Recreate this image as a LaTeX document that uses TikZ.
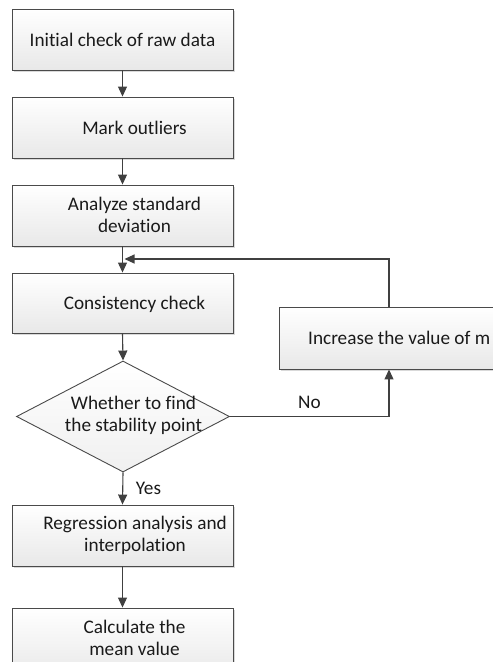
\documentclass[tikz,border=0pt]{standalone}
\usepackage{fontspec}
\setmainfont{Carlito}[Ligatures={NoCommon}]
\usetikzlibrary{arrows.meta,shapes.geometric,shadows}
\definecolor{edgegray}{HTML}{4A4A4A}
\definecolor{linegray}{HTML}{404040}
\definecolor{textgray}{HTML}{1A1A1A}
\tikzset{
  procbox/.style={rectangle, draw=edgegray, line width=0.9bp,
    top color=white, bottom color=black!9,
    minimum width=221bp, minimum height=61bp, inner sep=0pt,
    drop shadow={shadow xshift=2bp, shadow yshift=-2bp, opacity=0.25, fill=black!60}},
  decbox/.style={diamond, draw=edgegray, line width=0.9bp,
    top color=white, bottom color=black!6,
    minimum width=213bp, minimum height=111bp, inner sep=0pt, aspect=1.9},
  label/.style={font=\fontsize{19.3}{22}\selectfont, text=textgray, align=center, inner sep=0pt},
  flow/.style={draw=linegray, line width=1.1bp, -{Triangle[length=10bp,width=9bp]}},
}
\begin{document}
\begin{tikzpicture}[x=1bp,y=-1bp]
\useasboundingbox (0,0) rectangle (493,667);
\begin{scope}
\clip (0,0) rectangle (493,661);
% main column of process boxes
\node[procbox] (b1) at (122.5,39.5) {};
\node[procbox] (b2) at (122.5,127.5) {};
\node[procbox] (b3) at (122.5,215.5) {};
\node[procbox, minimum height=60bp] (b4) at (122.5,303) {};
\node[decbox] (dia) at (123,416.5) {};
\node[procbox] (b5) at (122.5,535.5) {};
\node[procbox, minimum height=70bp] (b6) at (122.5,643) {};
% side box of the loop
\node[procbox, minimum height=62bp, minimum width=220bp] (r) at (389,338) {};

% texts
\node[label] (t1) at (122.5,40) {Initial check of raw data};
\node[label] (t2) at (134.5,128) {Mark outliers};
\node[label] (t3) at (134.5,215) {Analyze standard\\deviation};
\node[label] (t4) at (134.5,304) {Consistency check};
\node[label] (t5) at (133.5,415) {Whether to find\\the stability point};
\node[label] (t6) at (135,535) {Regression analysis and\\interpolation};
\node[label] (t7) at (134.5,638) {Calculate the\\mean value};
\begin{scope}
\clip (300,300) rectangle (489,370);
\node[label, anchor=west] (t8) at (308,338) {Increase the value of m};
\end{scope}

% connectors
\coordinate (join) at (124.5,259);
\draw[flow] (b1.south) -- (b2.north);
\draw[flow] (b2.south) -- (b3.north);
\draw[flow] (b3.south) -- (b4.north);
\draw[flow] (b4.south) -- (dia.north);
\draw[flow] (dia.south) -- (b5.north);
\draw[flow] (b5.south) -- (b6.north);
\draw[flow] (dia.east) -- (r.south |- dia.east) -- (r.south);
\draw[flow] (r.north) -- (r.north |- join) -- (join);

% branch labels
\node[label] (no) at (309.5,402) {No};
\node[label] (yes) at (148.5,488) {Yes};
\end{scope}
\end{tikzpicture}
\end{document}
